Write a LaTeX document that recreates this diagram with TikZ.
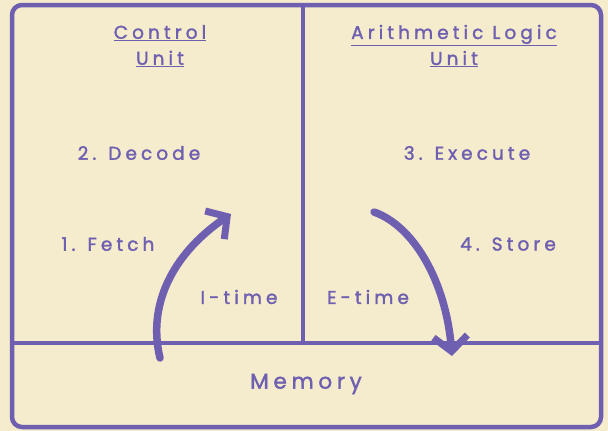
\documentclass[tikz,border=0pt]{standalone}
\usepackage{fontspec}
\setmainfont{Poppins}
\newfontfamily\spaced[LetterSpace=22, Ligatures={NoCommon}, FakeBold=1.6]{Poppins}
\usetikzlibrary{arrows.meta}
\definecolor{cream}{HTML}{F5EBCD}
\definecolor{lilac}{HTML}{6E5FB0}
\tikzset{
    unit-title/.style = {text=lilac, font=\spaced\fontsize{18.5}{26}\selectfont, align=center},
    step-label/.style = {text=lilac, font=\spaced\fontsize{18.5}{22}\selectfont},
    cycle-arrow/.style = {draw=lilac, line width=7.5pt, line cap=round, -{Straight Barb[length=15pt, width=34pt, line width=7pt]}},
}
\begin{document}
\begin{tikzpicture}[x=1pt, y=-1pt]
\fill[cream] (0,0) rectangle (608,431);
\draw[lilac, line width=4.5pt, rounded corners=10pt] (12,5) rectangle (601,427);
\draw[lilac, line width=3.5pt] (303,5) -- (303,343);
\draw[lilac, line width=3.5pt] (12,343) -- (601,343);
\node[unit-title] (control) at (160,46) {\underline{Control}\\\underline{Unit}};
\node[unit-title] (alu) at (454,46) {\underline{Arithmetic Logic}\\\underline{Unit}};
\node[step-label] (decode) at (139,153) {2. Decode};
\node[step-label] (fetch) at (108,244) {1. Fetch};
\node[step-label] (execute) at (467,153) {3. Execute};
\node[step-label] (store) at (508,244) {4. Store};
\node[step-label] (itime) at (239,297) {I-time};
\node[step-label] (etime) at (368,297) {E-time};
\node[step-label, font=\spaced\fontsize{21.5}{24}\selectfont] (memory) at (306,384) {Memory};
\coordinate (fetch-start) at (160,358);
\coordinate (fetch-end) at (231,214);
\coordinate (exec-start) at (374,212);
\coordinate (exec-end) at (452,356);
\draw[cycle-arrow] (fetch-start) .. controls (146,300) and (178,250) .. (fetch-end);
\draw[cycle-arrow] (exec-start) .. controls (414,226) and (446,282) .. (exec-end);
\end{tikzpicture}
\end{document}
